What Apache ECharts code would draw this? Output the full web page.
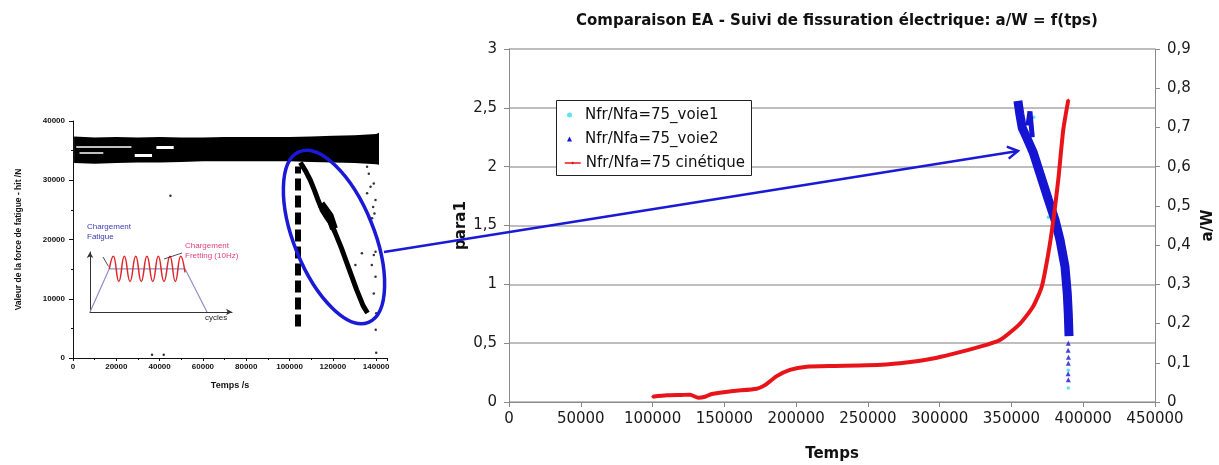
<!DOCTYPE html>
<html lang="fr">
<head>
<meta charset="utf-8" />
<title>Comparaison EA</title>
<style>
  html, body { margin: 0; padding: 0; background: #fff; }
  #chart { width: 1219px; height: 465px; }
</style>
</head>
<body>
<div id="chart"></div>
<script src="https://cdn.jsdelivr.net/npm/echarts@6/dist/echarts.min.js"></script>
<script>
// ---- left chart: force de fatigue vs temps ----
const bandTime = [500, 10000, 20000, 30000, 40000, 50000, 60000, 70000, 80000, 90000, 100000, 110000, 120000, 130000, 140000, 141300];
const bandHigh = [37400, 37200, 37300, 37200, 37300, 37200, 37200, 37300, 37300, 37300, 37300, 37400, 37500, 37600, 37800, 38000];
const bandLow = [32900, 32800, 32900, 33000, 33000, 33100, 33200, 33200, 33200, 33200, 33200, 33100, 33000, 32900, 32700, 32600];
// white holes inside the band: [t start, t end, value, width]
const gapSegments = [
  [1500, 27000, 35700, 1.5], [3000, 14000, 34700, 1.5], [28500, 36500, 34300, 3],
  [38500, 46500, 35600, 3]
];
const branchTime = [105000, 107500, 109600, 111500, 113000, 115000, 117000, 119000, 121000, 124000, 128000, 131000, 134000, 136000];
const branchForce = [33000, 31500, 30000, 28300, 26800, 25000, 23800, 22800, 21200, 18500, 14500, 11500, 8800, 7600];
const bumpTime = [114500, 116500, 118500, 120500];
const bumpForce = [26000, 25000, 24000, 21800];
const dotTime = [45000, 36500, 41900, 135800, 136600, 137400, 135800, 138900, 139700, 138600, 139200, 138100, 133400, 130400, 138000, 138900, 139700, 139700, 138900, 140000, 139800, 140000];
const dotForce = [27400, 560, 560, 32260, 31100, 28900, 27800, 29450, 26650, 25500, 24400, 23600, 17700, 15700, 15700, 17400, 17950, 13700, 10900, 7570, 4770, 900];
const crackStart = 104000;
const crackRange = [5300, 32300];

// ---- inset sketch (cycles) ----
const sketchX = [0, 1.36, 6.69, 8.24];
const sketchY = [0, 0.72, 0.72, 0];
const waveX = [1.36, 1.64, 2.03, 2.42, 2.82, 3.22, 3.61, 4.01, 4.42, 4.81, 5.21, 5.63, 6.01, 6.39, 6.69];
const waveY = [0.72, 0.93, 0.51, 0.93, 0.51, 0.93, 0.51, 0.93, 0.51, 0.93, 0.51, 0.93, 0.51, 0.93, 0.66];

// ---- right chart ----
const kinTime = [100000, 109900, 120000, 126100, 131900, 136500, 141200, 156200, 172500, 178300, 186500, 195700, 207400, 225900, 249200, 272400, 298100, 328100, 342000, 356000, 365000, 371100, 375700, 379200, 382600, 386100, 389600];
const kinAW = [0.0135, 0.017, 0.018, 0.0186, 0.011, 0.0135, 0.0204, 0.028, 0.034, 0.043, 0.066, 0.082, 0.09, 0.092, 0.0936, 0.099, 0.113, 0.141, 0.158, 0.2, 0.243, 0.294, 0.379, 0.464, 0.566, 0.694, 0.77];
const v1Time = [355000, 358500, 362500, 365500, 368500, 372000, 375700, 379000, 383000, 386000, 388500, 389600, 389600];
const v1Para = [2.52, 2.40, 2.13, 2.42, 2.00, 1.85, 1.57, 1.58, 1.40, 1.2, 0.9, 0.27, 0.12];
const v2Time = [354500, 355800, 357500, 360500, 365200, 369900, 375700, 380300, 383800, 387300, 388900, 389600, 390100];
const v2Para = [2.56, 2.45, 2.33, 2.25, 2.12, 1.94, 1.72, 1.55, 1.38, 1.15, 0.92, 0.75, 0.56];
const v2SpikeTime = [361500, 362900, 364500];
const v2SpikePara = [2.35, 2.47, 2.25];
const v2TailTime = [389600, 389500, 389700, 389600, 389500, 389600];
const v2TailPara = [0.50, 0.44, 0.38, 0.33, 0.24, 0.19];

const zip = (a, b) => a.map((v, i) => [v, b[i]]);
const comma = v => String(v).replace('.', ',');
const blue = '#1414d2';
const grey = '#8a8a8a';
const lib = 'Liberation Sans';
const S1 = 'Nfr/Nfa=75_voie1', S2 = 'Nfr/Nfa=75_voie2', S3 = 'Nfr/Nfa=75 cinétique';

// band of the left chart as one polygon: upper edge, then lower edge backwards
function renderBand(params, api) {
  if (params.dataIndex !== 0) return;
  const pts = bandTime.map((t, i) => api.coord([t, bandHigh[i]]));
  for (let i = bandTime.length - 1; i >= 0; i--) pts.push(api.coord([bandTime[i], bandLow[i]]));
  return { type: 'polygon', shape: { points: pts }, style: { fill: '#000' } };
}

const smallAxis = { fontSize: 8, fontWeight: 'bold', color: '#111', fontFamily: lib };

const chart = echarts.init(document.getElementById('chart'));
chart.setOption({
  animation: false,
  textStyle: { fontFamily: 'DejaVu Sans' },
  title: {
    text: 'Comparaison EA - Suivi de fissuration électrique: a/W = f(tps)',
    left: 571, top: 9,
    textStyle: { fontSize: 15, fontWeight: 'bold', color: '#111' }
  },
  legend: [
    {
      data: [{ name: S1, icon: 'circle' }, { name: S2, icon: 'triangle' }],
      orient: 'vertical', left: 567, top: 107, padding: 0,
      itemGap: 8, itemWidth: 5, itemHeight: 5,
      textStyle: { fontSize: 15, color: '#111', lineHeight: 16, padding: [0, 0, 0, 8] }
    },
    {
      data: [{ name: S3 }],
      orient: 'vertical', left: 564, top: 155, padding: 0,
      itemWidth: 16, itemHeight: 4, lineStyle: { width: 1.5 },
      textStyle: { fontSize: 15, color: '#111', lineHeight: 16 }
    }
  ],
  grid: [
    { left: 73, top: 121, width: 314, height: 237, outerBoundsMode: 'none' },
    { left: 509, top: 49, right: 64, bottom: 63, outerBoundsMode: 'none' },
    { left: 90, top: 252, width: 142, height: 60, outerBoundsMode: 'none' }
  ],
  xAxis: [
    {
      gridIndex: 0, type: 'value', min: 0, max: 145000, interval: 20000,
      name: 'Temps /s', nameLocation: 'middle', nameGap: 23, nameMoveOverlap: false,
      nameTextStyle: { fontSize: 9, fontWeight: 'bold', color: '#111', fontFamily: lib },
      axisLine: { onZero: false, lineStyle: { color: '#111' } },
      axisTick: { length: 3, lineStyle: { color: '#111' } },
      minorTick: { show: true, splitNumber: 2, length: 2, lineStyle: { color: '#111' } },
      axisLabel: Object.assign({ margin: 5, formatter: v => v > 140000 ? '' : String(v) }, smallAxis),
      splitLine: { show: false }
    },
    {
      gridIndex: 1, type: 'value', min: 0, max: 450000, interval: 50000,
      name: 'Temps', nameLocation: 'middle', nameGap: 45, nameMoveOverlap: false,
      nameTextStyle: { fontSize: 15, fontWeight: 'bold', color: '#111' },
      axisLine: { onZero: false, lineStyle: { color: grey } },
      axisTick: { length: 5, lineStyle: { color: grey } },
      axisLabel: { fontSize: 15, color: '#1a1a1a', margin: 10, formatter: v => String(v) },
      splitLine: { show: false }
    },
    {
      gridIndex: 2, type: 'value', min: 0, max: 10,
      axisLine: { onZero: false, symbol: ['none', 'arrow'], symbolSize: [5, 6], lineStyle: { color: '#333', width: 1 } },
      axisTick: { show: false }, axisLabel: { show: false }, splitLine: { show: false }
    }
  ],
  yAxis: [
    {
      gridIndex: 0, type: 'value', min: 0, max: 40000, interval: 10000,
      name: 'Valeur de la force de fatigue - hit /N', nameLocation: 'middle', nameGap: 50, nameMoveOverlap: false,
      nameTextStyle: { fontSize: 8.5, fontWeight: 'bold', color: '#111', fontFamily: lib },
      axisLine: { show: true, onZero: false, lineStyle: { color: '#111' } },
      axisTick: { show: true, length: 4, lineStyle: { color: '#111' } },
      minorTick: { show: true, splitNumber: 2, length: 2, lineStyle: { color: '#111' } },
      axisLabel: Object.assign({ margin: 8, formatter: v => String(v) }, smallAxis),
      splitLine: { show: false }
    },
    {
      gridIndex: 1, type: 'value', min: 0, max: 3, interval: 0.5,
      name: 'para1', nameLocation: 'middle', nameGap: 40, nameMoveOverlap: false,
      nameTextStyle: { fontSize: 15, fontWeight: 'bold', color: '#111' },
      axisLine: { show: true, onZero: false, lineStyle: { color: grey } },
      axisTick: { show: true, length: 5, lineStyle: { color: grey } },
      axisLabel: { fontSize: 15, color: '#1a1a1a', margin: 12, formatter: comma },
      splitLine: { show: true, lineStyle: { color: '#a8a8a8', width: 1.5 } }
    },
    {
      gridIndex: 1, type: 'value', position: 'right', min: 0, max: 0.9, interval: 0.1,
      name: 'a/W', nameLocation: 'middle', nameGap: 46, nameMoveOverlap: false,
      nameTextStyle: { fontSize: 15, fontWeight: 'bold', color: '#111' },
      axisLine: { show: true, onZero: false, lineStyle: { color: grey } },
      axisTick: { show: true, length: 5, lineStyle: { color: grey } },
      axisLabel: { fontSize: 15, color: '#1a1a1a', margin: 12, formatter: v => v === 0 ? '0' : v.toFixed(1).replace('.', ',') },
      splitLine: { show: false }
    },
    {
      gridIndex: 2, type: 'value', min: 0, max: 1,
      axisLine: { show: true, onZero: false, symbol: ['none', 'arrow'], symbolSize: [5, 6], lineStyle: { color: '#333', width: 1 } },
      axisTick: { show: false }, axisLabel: { show: false }, splitLine: { show: false }
    }
  ],
  series: [
    // left chart
    { type: 'custom', xAxisIndex: 0, yAxisIndex: 0, silent: true, renderItem: renderBand,
      data: [[bandTime[0], bandLow[0]]] },
    { type: 'lines', coordinateSystem: 'cartesian2d', xAxisIndex: 0, yAxisIndex: 0, silent: true, z: 3,
      data: gapSegments.map(g => ({ coords: [[g[0], g[2]], [g[1], g[2]]], lineStyle: { width: g[3] } })),
      lineStyle: { color: '#fff', opacity: 1 } },
    { type: 'line', xAxisIndex: 0, yAxisIndex: 0, symbol: 'none', silent: true,
      lineStyle: { color: '#000', width: 5 }, data: zip(branchTime, branchForce),
      markLine: {
        silent: true, symbol: ['none', 'none'], label: { show: false },
        lineStyle: { color: '#000', width: 6, type: [12, 5] },
        data: [[{ coord: [crackStart, crackRange[0]] }, { coord: [crackStart, crackRange[1]] }]]
      } },
    { type: 'line', xAxisIndex: 0, yAxisIndex: 0, symbol: 'none', silent: true,
      lineStyle: { color: '#000', width: 8 }, data: zip(bumpTime, bumpForce) },
    { type: 'scatter', xAxisIndex: 0, yAxisIndex: 0, symbolSize: 2.5, silent: true,
      itemStyle: { color: '#000' }, data: zip(dotTime, dotForce) },
    // inset sketch
    { type: 'line', xAxisIndex: 2, yAxisIndex: 3, symbol: 'none', silent: true,
      lineStyle: { color: '#8d90c4', width: 1.2 }, data: zip(sketchX, sketchY) },
    { type: 'line', xAxisIndex: 2, yAxisIndex: 3, symbol: 'none', silent: true, smooth: 0.5,
      lineStyle: { color: '#e0262a', width: 1.5 }, data: zip(waveX, waveY) },
    // right chart
    { name: S1, type: 'scatter', xAxisIndex: 1, yAxisIndex: 1, symbol: 'circle', symbolSize: 3.5,
      itemStyle: { color: '#3ad8ee' }, data: zip(v1Time, v1Para) },
    { name: S2, type: 'line', xAxisIndex: 1, yAxisIndex: 1, symbol: 'none', color: blue,
      lineStyle: { color: blue, width: 9 }, data: zip(v2Time, v2Para) },
    { name: S2, type: 'line', xAxisIndex: 1, yAxisIndex: 1, symbol: 'none', color: blue,
      lineStyle: { color: blue, width: 5 }, data: zip(v2SpikeTime, v2SpikePara) },
    { name: S2, type: 'scatter', xAxisIndex: 1, yAxisIndex: 1, symbol: 'triangle', symbolSize: 5, color: blue,
      itemStyle: { color: blue }, data: zip(v2TailTime, v2TailPara) },
    { name: S3, type: 'line', xAxisIndex: 1, yAxisIndex: 2, symbol: 'diamond', symbolSize: 3, smooth: 0.2,
      color: '#e8141a', itemStyle: { color: '#e8141a' },
      lineStyle: { color: '#e8141a', width: 4 }, data: zip(kinTime, kinAW) }
  ],
  graphic: [
    // legend frame
    { type: 'rect', z: 3, silent: true, shape: { x: 556.5, y: 100.5, width: 195, height: 75 },
      style: { fill: '#fff', stroke: '#222', lineWidth: 1 } },
    { type: 'ellipse', x: 334, y: 237, rotation: 0.384, z: 100, silent: true,
      shape: { cx: 0, cy: 0, rx: 40, ry: 92 },
      style: { fill: 'none', stroke: '#1a1ad6', lineWidth: 3.5 } },
    { type: 'polyline', z: 100, silent: true, shape: { points: [[384, 252], [1018, 151]] },
      style: { stroke: '#1a1ad6', lineWidth: 2.5, fill: 'none' } },
    { type: 'polyline', z: 100, silent: true, shape: { points: [[1006.8, 146.7], [1018, 151], [1008.7, 158.6]] },
      style: { stroke: '#1a1ad6', lineWidth: 2.5, fill: 'none' } },
    { type: 'text', x: 87, y: 222, z: 50, silent: true,
      style: { text: 'Chargement\nFatigue', fill: '#3a3ab8', font: '8px "Liberation Sans"', lineHeight: 10 } },
    { type: 'text', x: 185, y: 241, z: 50, silent: true,
      style: { text: 'Chargement\nFretting (10Hz)', fill: '#e0407a', font: '8px "Liberation Sans"', lineHeight: 10 } },
    { type: 'text', x: 205, y: 314, z: 50, silent: true,
      style: { text: 'cycles', fill: '#222', font: '8px "Liberation Sans"' } },
    { type: 'line', z: 50, silent: true, shape: { x1: 103, y1: 257, x2: 108.5, y2: 266.5 },
      style: { stroke: '#222', lineWidth: 0.8 } },
    { type: 'line', z: 50, silent: true, shape: { x1: 182, y1: 253, x2: 164, y2: 259 },
      style: { stroke: '#222', lineWidth: 0.8 } }
  ]
});
</script>
</body>
</html>
